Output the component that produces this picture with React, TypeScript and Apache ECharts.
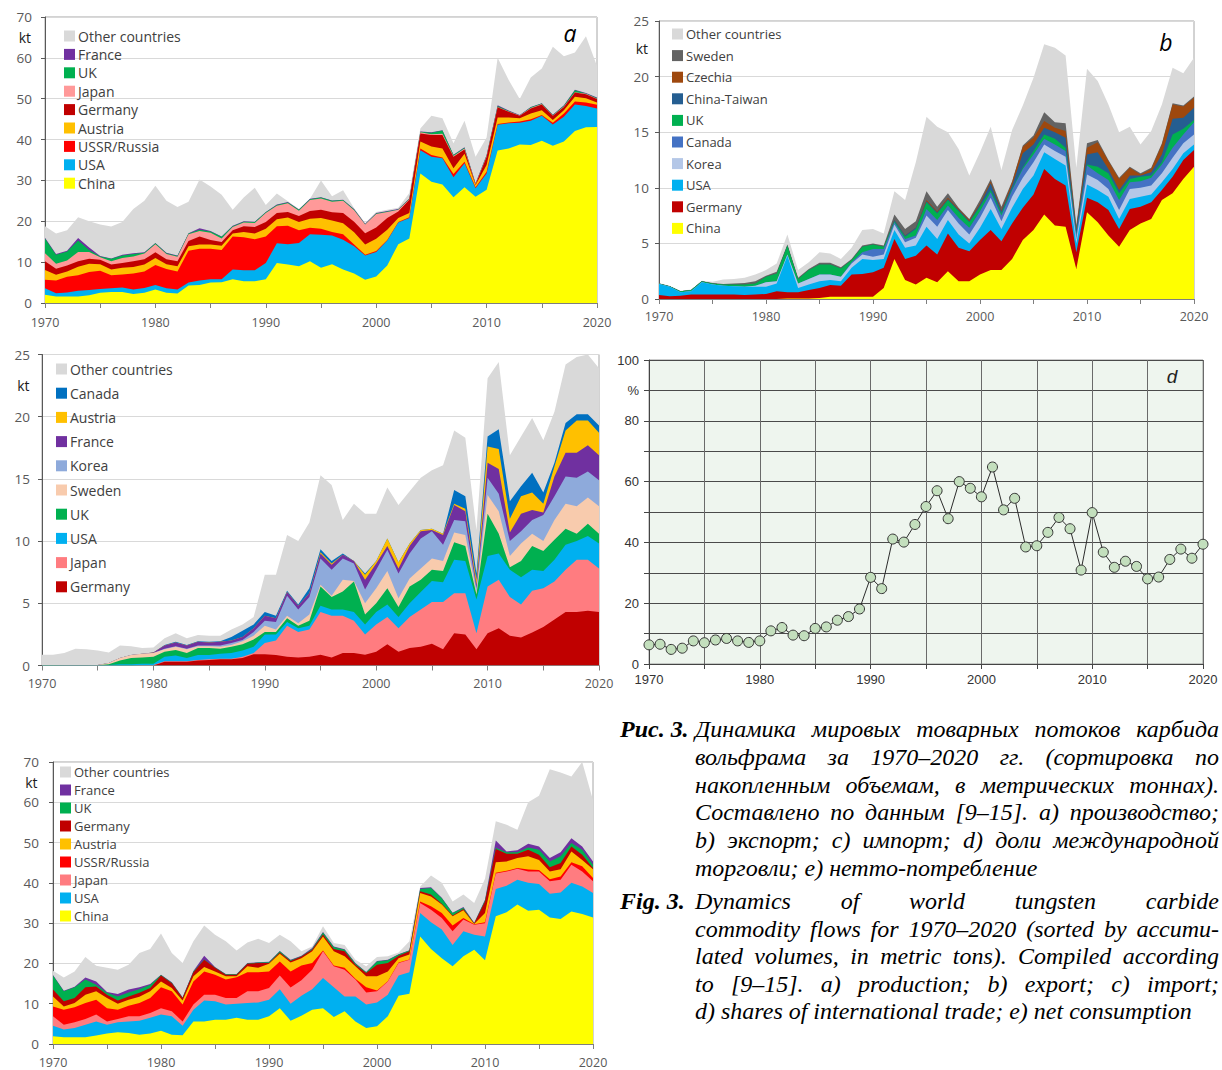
import React, { useEffect, useRef } from "react";
import * as echarts from "echarts";

// ---------- categories ----------
const years: string[] = [];
for (let y = 1970; y <= 2020; y++) years.push(String(y));

// ---------- panel a: production (upper edge of each band, kt) ----------
const aChina = [2.0,1.6,1.6,1.6,1.9,2.5,2.7,2.7,2.2,2.5, 3.3,2.5,2.3,4.3,4.4,5.0,5.1,5.8,5.3,5.3, 5.8,9.8,9.4,9.0,10.2,8.6,9.5,8.2,7.2,5.7, 6.5,9.2,14.4,15.8,31.7,29.7,29.0,25.9,28.3,26.0, 27.7,37.3,37.8,38.8,38.7,39.7,38.5,39.5,42.1,43.0,43.1];
const aUSA = [3.6,2.4,2.6,3.0,3.2,3.4,3.6,3.8,3.3,3.7, 4.4,3.6,3.3,5.0,5.5,5.8,5.8,8.2,8.0,8.0, 9.8,14.6,14.4,14.7,16.8,16.7,16.5,15.5,13.9,11.6, 12.5,15.3,19.7,20.8,37.4,35.8,35.4,30.8,34.2,28.1, 31.7,43.6,44.0,44.1,44.6,45.8,43.7,45.6,48.6,48.2,47.6];
const aRussia = [5.7,5.5,6.4,6.8,7.6,7.9,6.8,7.0,7.2,7.7, 9.3,8.3,7.7,12.8,13.3,13.3,13.0,16.3,16.1,15.6, 16.3,18.8,18.9,17.8,18.4,18.2,17.4,16.8,14.3,11.8, 12.7,15.4,19.8,21.0,37.8,36.2,35.6,31.6,34.6,28.3, 32.1,43.8,44.2,44.4,45.0,46.0,44.1,46.4,49.3,49.1,48.5];
const aAustria = [8.1,6.9,7.7,8.9,9.6,9.5,8.2,8.6,8.8,9.4, 11.0,9.5,9.0,13.9,14.3,14.3,14.0,17.0,17.4,17.0, 18.2,20.5,20.9,19.8,20.6,20.8,20.2,19.5,17.3,14.3, 15.7,17.9,20.8,22.0,39.5,38.3,37.8,33.0,36.5,28.9, 33.8,45.4,45.4,45.2,46.4,47.2,44.8,47.2,50.5,50.1,49.1];
const aGermany = [10.2,8.4,9.2,10.2,10.8,10.6,9.4,9.8,10.2,10.7, 12.4,10.7,10.2,15.2,16.3,15.4,14.9,17.8,18.8,18.6, 19.8,22.0,22.3,21.3,22.5,22.8,22.2,22.0,19.9,17.1, 18.5,20.8,22.4,25.3,41.5,41.1,41.1,35.8,37.6,29.0, 35.8,47.9,46.8,45.8,47.6,48.6,45.8,48.0,51.5,51.1,49.9];
const aJapan = [12.2,9.6,10.4,12.5,12.5,11.2,10.2,11.0,11.4,12.1, 14.4,12.0,11.3,16.8,17.6,17.2,15.8,18.6,19.7,19.6, 22.0,23.8,24.4,22.6,25.2,25.6,24.8,25.0,22.7,19.2, 21.8,22.3,22.8,25.4,41.8,41.3,41.4,36.0,37.8,29.1, 36.0,48.0,46.9,45.9,47.7,48.7,45.9,48.1,51.6,51.2,50.0];
const aUK = [15.8,11.8,12.6,15.3,13.0,11.4,10.8,11.6,12.0,12.3, 14.6,12.2,11.5,17.0,17.9,17.5,16.2,18.8,19.9,19.8, 22.2,24.0,24.6,22.8,25.4,25.8,25.0,25.2,22.9,19.3, 21.9,22.4,22.9,25.5,41.9,41.7,42.2,36.2,38.0,29.2, 36.1,48.2,47.0,45.9,47.9,48.8,46.0,48.3,52.1,51.3,50.2];
const aFrance = [16.0,12.0,12.8,15.9,13.6,11.5,10.9,11.8,12.2,12.4, 14.7,12.3,11.6,17.1,18.3,17.6,16.3,18.9,20.0,19.9, 22.3,24.1,24.7,22.9,25.5,25.9,25.1,25.3,23.0,19.4, 22.0,22.5,23.0,25.6,42.0,41.8,42.3,36.3,38.1,29.3, 36.2,48.4,47.1,46.0,48.0,48.9,46.1,48.4,52.2,51.4,50.3];
const aOther = [18.8,17.0,17.8,21.0,20.0,19.2,18.7,19.8,23.0,25.0, 28.7,25.0,23.5,24.8,30.2,28.5,26.5,22.8,25.8,28.2, 24.0,26.8,24.9,23.0,25.5,30.0,26.1,27.6,23.2,19.6, 22.3,22.8,23.3,26.9,42.7,45.8,45.2,39.1,44.6,35.8, 40.5,60.0,54.6,49.9,55.2,57.4,62.7,60.4,61.3,65.3,58.0];

// ---------- panel b: export ----------
const bChina = [0,0,0,0,0,0,0,0,0,0, 0,0,0.05,0.05,0.05,0.1,0.2,0.2,0.2,0.2, 0.2,1.0,3.6,1.7,1.3,1.9,1.5,2.5,1.6,1.6, 2.2,2.6,2.6,3.6,5.3,6.2,7.6,6.6,6.5,2.7, 7.8,6.9,5.7,4.7,6.2,6.8,7.2,8.9,9.5,10.8,11.9];
const bGermany = [0.35,0.25,0.3,0.4,0.4,0.4,0.4,0.4,0.35,0.4, 0.45,0.7,0.6,0.6,0.8,1.0,1.25,1.2,2.2,2.25, 2.4,2.8,5.4,3.6,3.9,4.8,4.0,5.9,4.6,4.3, 5.3,6.2,5.2,6.8,8.2,9.4,11.7,10.8,10.2,4.2, 9.1,8.7,8.0,6.3,8.1,8.3,8.7,9.8,11.0,12.5,13.4];
const bUSA = [1.35,1.1,0.6,0.7,1.5,1.3,1.2,1.15,1.1,1.1, 1.1,1.4,3.9,1.0,1.3,1.6,1.7,1.6,2.8,3.6, 3.5,3.6,6.2,4.6,4.8,6.5,5.4,7.1,5.8,5.0, 6.4,8.1,6.3,8.2,9.9,11.1,13.2,12.6,12.0,5.0, 10.3,9.8,9.2,7.2,9.0,9.2,9.4,10.5,11.7,13.1,13.9];
const bKorea = [1.35,1.1,0.6,0.7,1.5,1.3,1.2,1.15,1.1,1.2, 1.5,1.6,4.0,1.4,1.8,2.2,2.2,2.0,3.2,4.0, 3.8,4.0,6.7,5.1,5.5,7.5,6.5,8.0,6.8,5.8, 7.3,9.1,7.0,9.2,10.9,12.3,13.9,13.3,12.8,5.4, 11.2,10.7,9.9,8.0,9.9,10.0,10.2,11.3,12.7,14.0,14.8];
const bCanada = [1.35,1.1,0.6,0.7,1.5,1.3,1.2,1.15,1.1,1.2, 1.5,1.6,4.0,1.4,1.8,2.2,2.2,2.0,3.3,4.2, 4.5,4.5,6.9,5.4,5.7,8.1,7.1,8.4,7.3,6.4, 7.9,9.6,7.5,9.8,11.7,13.0,14.4,13.9,13.3,5.8, 12.0,11.3,10.7,8.9,10.5,10.6,10.9,12.1,13.6,14.8,15.9];
const bUK = [1.4,1.15,0.7,0.8,1.6,1.4,1.3,1.3,1.3,1.4, 2.0,2.3,4.8,1.8,2.6,3.1,3.1,2.75,3.5,4.7, 4.9,4.7,7.0,5.6,6.3,8.7,7.7,8.9,7.9,6.9, 8.3,9.8,7.7,9.9,11.8,13.3,14.8,14.4,13.6,5.9, 12.1,11.9,11.3,9.5,10.8,11.0,11.1,12.3,14.8,15.3,16.1];
const bTaiwan = [1.4,1.15,0.7,0.8,1.6,1.4,1.3,1.3,1.3,1.4, 2.0,2.3,4.8,1.8,2.6,3.1,3.1,2.75,3.5,4.7, 4.9,4.7,7.1,5.7,6.4,8.8,7.8,9.0,8.0,7.0, 8.5,10.4,7.9,10.2,13.1,13.9,15.4,15.0,14.5,6.2, 13.0,13.2,11.7,9.8,11.1,11.1,11.4,13.0,16.2,16.3,17.2];
const bCzechia = [1.4,1.15,0.7,0.8,1.6,1.4,1.3,1.3,1.3,1.4, 2.0,2.3,4.8,1.8,2.6,3.1,3.1,2.75,3.5,4.7, 4.9,4.7,7.1,5.7,6.4,8.9,7.9,9.1,8.1,7.1, 8.6,10.6,8.0,10.5,13.7,14.5,16.0,15.4,15.1,6.4, 13.6,14.1,12.4,10.8,11.8,11.2,11.7,13.9,17.5,17.3,18.1];
const bSweden = [1.4,1.15,0.7,0.8,1.6,1.45,1.35,1.4,1.45,1.6, 2.1,2.45,4.9,1.9,2.7,3.25,3.25,2.85,3.6,4.8, 5.0,4.8,7.6,6.3,7.0,9.7,8.3,9.5,8.2,7.2, 8.9,10.8,8.3,10.6,13.8,14.7,16.8,15.9,15.8,6.6, 14.0,14.3,12.5,10.9,11.9,11.3,11.8,14.0,17.6,17.4,18.2];
const bOther = [1.45,1.2,0.75,0.85,1.65,1.55,1.75,1.8,1.9,2.2, 2.6,3.2,5.8,2.6,3.3,4.2,4.1,3.6,4.6,6.2, 6.3,5.9,9.7,8.9,12.3,16.4,15.5,15.0,13.5,11.1, 13.2,15.5,11.6,15.2,17.4,19.9,22.9,22.6,21.9,11.8, 20.7,19.6,17.5,15.0,15.5,13.9,15.1,17.5,20.8,20.3,21.7];

// ---------- panel c: import ----------
const cGermany = [0,0,0,0,0,0,0,0,0,0, 0,0.3,0.3,0.3,0.4,0.45,0.5,0.5,0.6,0.9, 0.9,0.85,0.7,0.65,0.7,0.86,0.64,1.0,1.0,0.86, 1.1,1.7,1.1,1.4,1.5,1.75,1.3,2.6,2.5,1.3, 2.6,3.0,2.4,2.25,2.65,3.1,3.7,4.3,4.3,4.4,4.3];
const cJapan = [0,0,0,0,0,0,0,0,0,0.05, 0.05,0.35,0.35,0.35,0.45,0.5,0.55,0.55,0.7,1.0, 1.8,2.0,3.2,2.7,2.9,4.3,4.0,4.0,3.6,2.5, 3.3,3.9,3.0,3.9,4.5,5.1,5.1,5.8,5.8,2.6, 6.35,6.9,5.5,4.9,6.0,6.2,6.75,7.7,8.5,8.5,7.8];
const cUSA = [0.03,0.02,0.02,0.02,0.02,0.02,0.05,0.1,0.1,0.15, 0.15,0.7,0.8,0.6,0.85,0.85,0.95,1.0,1.2,1.5, 2.5,2.5,3.5,3.0,3.2,4.8,4.5,4.5,4.3,3.3, 4.3,4.9,3.9,5.0,5.9,6.8,6.7,8.5,8.4,5.3, 8.8,9.0,7.7,7.1,7.7,7.6,8.5,9.7,10.0,10.4,9.8];
const cUK = [0.05,0.04,0.03,0.03,0.03,0.03,0.1,0.4,0.6,0.65, 0.7,1.1,1.25,1.0,1.4,1.4,1.35,1.5,1.7,2.1, 2.7,2.7,3.8,3.2,3.6,6.35,5.5,5.95,6.75,4.1, 5.0,6.2,4.7,6.35,6.9,7.7,7.6,9.9,9.6,5.7, 12.2,10.6,7.9,8.4,9.6,9.2,10.1,11.0,10.6,11.4,10.6];
const cSweden = [0.05,0.04,0.03,0.03,0.03,0.05,0.2,0.6,0.85,0.95, 1.0,1.3,1.5,1.3,1.55,1.55,1.5,1.65,1.95,2.4, 3.2,2.9,4.0,3.4,4.1,6.5,5.6,6.9,6.8,5.0, 6.2,7.6,5.4,7.0,7.8,8.6,8.4,10.7,10.5,5.9, 13.7,12.4,8.8,9.8,10.6,10.0,11.7,13.0,12.8,13.5,12.8];
const cKorea = [0.05,0.04,0.03,0.03,0.03,0.05,0.2,0.6,0.85,0.95, 1.0,1.35,1.55,1.35,1.6,1.6,1.6,1.8,2.05,2.7, 3.6,3.5,5.6,4.5,5.5,8.6,7.7,8.6,8.2,6.1, 7.7,9.3,7.4,9.0,10.2,10.8,9.7,11.7,11.6,6.2, 15.1,13.8,10.0,10.8,11.7,12.1,13.6,15.2,15.1,15.6,14.9];
const cFrance = [0.05,0.04,0.03,0.03,0.03,0.05,0.2,0.6,0.85,0.95, 1.05,1.6,1.85,1.6,1.9,1.85,1.9,2.0,2.3,3.0, 4.0,3.8,5.9,4.8,5.8,9.0,8.1,8.9,8.4,6.9, 8.2,9.6,7.8,9.6,10.8,10.9,10.5,12.9,12.4,6.5, 16.3,15.8,10.7,12.2,12.5,12.3,15.2,17.1,17.1,17.7,16.9];
const cAustria = [0.05,0.04,0.03,0.03,0.03,0.05,0.2,0.6,0.85,0.95, 1.05,1.6,1.85,1.6,1.9,1.85,1.9,2.0,2.3,3.0, 4.0,3.8,5.9,4.8,5.8,9.1,8.2,8.9,8.4,7.3, 8.4,10.2,8.3,9.8,10.9,11.0,10.6,13.0,12.6,6.9, 17.6,17.4,11.8,13.6,13.9,13.0,16.0,18.9,19.7,19.7,18.7];
const cCanada = [0.05,0.04,0.03,0.03,0.03,0.05,0.2,0.6,0.85,0.95, 1.05,1.65,1.9,1.65,1.95,1.9,1.95,2.3,2.8,3.3, 4.3,4.0,6.0,4.9,6.2,9.35,8.4,9.0,8.4,7.4, 8.4,10.2,8.3,9.8,10.9,11.0,10.6,14.1,13.6,7.4, 18.4,19.0,13.2,14.4,15.5,13.9,16.3,19.5,20.2,20.2,19.3];
const cOther = [0.86,0.86,1.0,1.35,1.3,1.2,1.05,1.6,1.55,1.4, 1.45,2.2,2.6,2.2,2.45,2.4,2.4,2.9,3.3,3.9, 7.3,7.3,10.5,10.0,11.5,15.3,14.5,11.7,13.0,12.2, 12.2,14.3,12.9,14.0,15.1,15.7,16.1,18.9,18.3,10.9, 23.1,24.4,16.9,18.4,19.9,18.1,20.4,24.2,24.8,25.0,23.9];

// ---------- panel d: share of international trade, % ----------
const dShare = [6.3,6.5,4.8,5.2,7.6,7.0,7.9,8.4,7.6,7.1, 7.6,10.9,12.0,9.5,9.3,11.7,12.2,14.4,15.6,18.1, 28.5,24.8,41.1,40.1,45.9,51.8,57.0,47.8,60.0,57.8, 55.0,64.8,50.7,54.5,38.5,38.9,43.3,48.2,44.5,30.9, 49.8,36.8,31.8,33.8,32.1,28.0,28.6,34.4,37.8,34.8,39.4];

// ---------- panel e: net consumption ----------
const eChina = [1.9,1.7,1.7,1.65,2.1,2.6,2.9,2.7,2.3,2.6, 3.3,2.3,2.2,5.6,5.6,6.0,6.0,6.5,6.0,6.0, 6.9,8.9,5.8,7.0,8.5,8.9,6.7,8.1,5.6,4.0, 4.4,6.9,12.0,12.5,26.7,23.6,21.3,19.3,21.8,23.4, 20.8,31.7,32.7,34.6,33.1,33.3,31.4,31.0,32.9,32.3,31.4];
const eUSA = [4.5,3.6,4.0,4.8,5.6,4.8,5.4,5.6,5.8,6.5, 7.3,6.9,4.5,8.5,10.8,10.6,9.8,10.0,10.2,10.3, 11.0,13.6,10.0,12.0,13.6,16.4,14.1,11.8,11.8,9.8, 10.3,12.2,17.0,17.8,32.5,30.2,28.4,24.6,28.0,27.1, 26.7,38.5,39.3,40.8,40.0,39.7,37.3,37.6,40.0,39.1,37.5];
const eJapan = [6.9,4.8,5.4,6.2,7.3,5.6,6.2,6.9,6.9,7.7, 8.9,8.1,5.6,9.8,12.2,12.2,11.4,11.4,13.1,13.1, 13.9,17.0,14.0,15.8,18.4,23.0,19.3,18.4,16.0,12.8, 13.1,15.5,20.1,20.9,35.0,33.3,31.3,28.0,30.9,29.6, 30.0,42.3,42.8,43.5,42.8,42.8,40.4,40.8,44.5,42.8,40.4];
const eRussia = [9.3,8.5,9.1,10.2,11.0,8.9,8.5,9.5,10.2,11.4, 14.1,13.1,9.8,15.5,18.0,17.2,16.0,16.6,17.8,17.8, 18.0,20.5,18.0,19.5,20.1,23.2,19.5,18.9,16.2,14.1, 13.3,15.6,20.2,21.0,35.4,34.2,32.5,29.4,31.3,29.7, 30.2,42.5,43.0,43.7,43.3,43.2,40.9,41.6,45.1,44.1,41.2];
const eAustria = [11.8,9.3,10.2,12.2,13.1,11.4,10.0,11.0,11.7,13.1, 15.5,13.9,10.8,16.8,19.1,18.0,16.8,16.8,19.3,18.9, 19.9,22.4,20.2,21.3,23.0,26.7,23.0,21.8,19.3,16.8, 16.8,18.0,21.3,22.2,37.5,36.6,34.6,31.7,33.2,29.8, 32.5,45.1,45.3,46.2,46.6,45.7,42.8,43.4,47.8,45.7,43.4];
const eGermany = [13.5,10.6,11.4,14.1,14.3,12.2,10.8,11.8,12.7,13.9, 17.0,15.1,11.4,17.8,20.9,18.9,17.2,17.2,19.9,20.1, 20.1,22.7,20.6,21.7,23.4,27.2,23.6,23.0,19.7,17.6, 19.7,20.1,21.9,23.0,37.9,37.1,34.8,31.9,33.5,29.9, 35.4,48.4,47.2,47.2,48.2,47.0,43.9,44.9,49.0,47.0,43.7];
const eUK = [17.0,13.1,14.1,16.0,14.7,12.7,11.8,12.8,13.6,14.7, 17.1,15.2,11.5,18.0,21.0,19.0,17.3,17.3,20.0,20.2, 20.3,23.0,20.8,21.8,23.6,27.7,24.1,23.4,20.0,17.8, 20.5,20.8,22.2,23.2,38.5,38.7,36.2,32.5,33.8,30.0, 35.6,48.7,47.6,47.6,48.8,48.2,45.3,46.6,49.9,48.2,44.5];
const eFrance = [17.1,13.2,14.2,16.5,15.5,12.9,12.4,13.5,14.1,14.9, 17.2,15.3,11.6,18.1,21.9,19.1,17.4,17.4,20.1,20.3, 20.4,23.1,20.9,21.9,23.8,27.8,24.2,23.5,20.1,17.9, 20.6,20.9,22.3,23.3,38.7,38.9,36.3,32.6,34.0,30.1, 35.8,50.5,47.8,48.1,49.7,49.0,46.2,47.6,51.1,49.0,45.3];
const eOther = [18.2,16.5,18.0,21.6,19.4,18.9,18.4,19.7,22.6,23.6, 27.4,22.6,20.1,25.5,29.4,27.1,25.5,23.2,25.2,26.1, 25.1,27.1,25.5,23.0,24.2,29.2,25.1,24.6,20.9,19.3, 21.6,21.8,22.7,25.5,39.1,41.8,40.0,35.4,37.1,35.0, 41.0,55.3,54.4,53.2,60.0,61.6,68.2,67.4,66.4,70.0,60.5];

// ---------- caption ----------
const ruLabel = "Рис. 3.";
const ruLines = [
  "Динамика мировых товарных потоков карбида",
  "вольфрама за 1970–2020 гг. (сортировка по",
  "накопленным объемам, в метрических тоннах).",
  "Составлено по данным [9–15]. a) производство;",
  "b) экспорт; c) импорт; d) доли международной",
  "торговли; e) нетто-потребление",
];
const enLabel = "Fig. 3.";
const enLines = [
  "Dynamics of world tungsten carbide",
  "commodity flows for 1970–2020 (sorted by accumu-",
  "lated volumes, in metric tons). Compiled according",
  "to [9–15]. a) production; b) export; c) import;",
  "d) shares of international trade; e) net consumption",
];

// ---------- styling / layout ----------
const SANS = "'Open Sans', 'Noto Sans', sans-serif";
const ARIAL = "'Liberation Sans', Arial, sans-serif";
const SERIF = "'Liberation Serif', 'Times New Roman', serif";
const OTHER = "#d9d9d9";

type Layer = { name: string; color: string; data: number[] };
type Panel = {
  grid: { left: number; top: number; width: number; height: number };
  max: number; interval: number; ktAt: number; ktRight: number;
  yMargin: number; xMargin: number;
  legend: { left: number; top: number; gap: number; fontSize: number };
  letter: { text: string; x: number; y: number; size: number; bold?: boolean };
  layers: Layer[]; // bottom -> top
};

const panels: Panel[] = [
  {
    grid: { left: 45, top: 17, width: 552, height: 286 }, max: 70, interval: 10, ktAt: 65, ktRight: 31,
    yMargin: 13, xMargin: 13,
    legend: { left: 64, top: 29, gap: 4.4, fontSize: 14 },
    letter: { text: "a", x: 570, y: 33, size: 23 },
    layers: [
      { name: "China", color: "#ffff00", data: aChina },
      { name: "USA", color: "#00b0f0", data: aUSA },
      { name: "USSR/Russia", color: "#ff0000", data: aRussia },
      { name: "Austria", color: "#ffc000", data: aAustria },
      { name: "Germany", color: "#c00000", data: aGermany },
      { name: "Japan", color: "#ff9999", data: aJapan },
      { name: "UK", color: "#00b050", data: aUK },
      { name: "France", color: "#7030a0", data: aFrance },
      { name: "Other countries", color: OTHER, data: aOther },
    ],
  },
  {
    grid: { left: 659, top: 21, width: 535, height: 278 }, max: 25, interval: 5, ktAt: 22.5, ktRight: 648,
    yMargin: 10, xMargin: 11,
    legend: { left: 672, top: 27.5, gap: 8.6, fontSize: 13 },
    letter: { text: "b", x: 1166, y: 42, size: 23 },
    layers: [
      { name: "China", color: "#ffff00", data: bChina },
      { name: "Germany", color: "#c00000", data: bGermany },
      { name: "USA", color: "#00b0f0", data: bUSA },
      { name: "Korea", color: "#b4c7e7", data: bKorea },
      { name: "Canada", color: "#4472c4", data: bCanada },
      { name: "UK", color: "#00b050", data: bUK },
      { name: "China-Taiwan", color: "#255e91", data: bTaiwan },
      { name: "Czechia", color: "#9e480e", data: bCzechia },
      { name: "Sweden", color: "#636363", data: bSweden },
      { name: "Other countries", color: OTHER, data: bOther },
    ],
  },
  {
    grid: { left: 42, top: 354.5, width: 557, height: 311 }, max: 25, interval: 5, ktAt: 22.5, ktRight: 29.5,
    yMargin: 12, xMargin: 11,
    legend: { left: 56, top: 362, gap: 10.2, fontSize: 14 },
    letter: { text: "c", x: 581, y: 386, size: 21, bold: true },
    layers: [
      { name: "Germany", color: "#c00000", data: cGermany },
      { name: "Japan", color: "#ff7c80", data: cJapan },
      { name: "USA", color: "#00b0f0", data: cUSA },
      { name: "UK", color: "#00b050", data: cUK },
      { name: "Sweden", color: "#f8cbad", data: cSweden },
      { name: "Korea", color: "#8eaadb", data: cKorea },
      { name: "France", color: "#7030a0", data: cFrance },
      { name: "Austria", color: "#ffc000", data: cAustria },
      { name: "Canada", color: "#0070c0", data: cCanada },
      { name: "Other countries", color: OTHER, data: cOther },
    ],
  },
  {
    grid: { left: 53, top: 762, width: 540, height: 282 }, max: 70, interval: 10, ktAt: 65, ktRight: 37.5,
    yMargin: 14, xMargin: 12,
    legend: { left: 60, top: 765.5, gap: 5, fontSize: 13 },
    letter: { text: "e", x: 574, y: 788, size: 23 },
    layers: [
      { name: "China", color: "#ffff00", data: eChina },
      { name: "USA", color: "#00b0f0", data: eUSA },
      { name: "Japan", color: "#ff7c80", data: eJapan },
      { name: "USSR/Russia", color: "#ff0000", data: eRussia },
      { name: "Austria", color: "#ffc000", data: eAustria },
      { name: "Germany", color: "#c00000", data: eGermany },
      { name: "UK", color: "#00b050", data: eUK },
      { name: "France", color: "#7030a0", data: eFrance },
      { name: "Other countries", color: OTHER, data: eOther },
    ],
  },
];

const gridD = { left: 649, top: 360, width: 554, height: 304 };

function captionElements(): any[] {
  const cv = document.createElement("canvas");
  const ctx = cv.getContext("2d")!;
  const measure = (t: string, font: string) => { ctx.font = font; return ctx.measureText(t).width; };
  const lastW = 497;
  const w100 = measure(enLines[4], `italic 100px ${SERIF}`);
  let fs = (100 * lastW) / w100;
  fs = Math.max(18, Math.min(24, fs));
  const font = `italic ${fs}px ${SERIF}`;
  const bold = `italic bold ${fs}px ${SERIF}`;
  const x0 = 695, x1 = 1219, labelX = 620;
  const out: any[] = [];
  const txt = (t: string, x: number, y: number, f: string) => ({
    type: "text", x, y, silent: true,
    style: { text: t, font: f, fill: "#000", textVerticalAlign: "middle", verticalAlign: "middle" },
  });
  const para = (label: string, lines: string[], y0: number, pitch: number) => {
    out.push(txt(label, labelX, y0, bold));
    lines.forEach((line, i) => {
      const y = y0 + i * pitch;
      if (i === lines.length - 1) { out.push(txt(line, x0, y, font)); return; }
      const words = line.split(" ");
      const ws = words.map((w) => measure(w, font));
      const sum = ws.reduce((a, b) => a + b, 0);
      const gap = words.length > 1 ? (x1 - x0 - sum) / (words.length - 1) : 0;
      let x = x0;
      words.forEach((w, k) => { out.push(txt(w, x, y, font)); x += ws[k] + gap; });
    });
  };
  para(ruLabel, ruLines, 729, 27.8);
  para(enLabel, enLines, 901, 27.6);
  return out;
}

function buildOption(): any {
  const grids: any[] = [];
  const xAxes: any[] = [];
  const yAxes: any[] = [];
  const series: any[] = [];
  const legends: any[] = [];
  const graphics: any[] = [];

  panels.forEach((p, gi) => {
    grids.push({ ...p.grid, show: true, borderColor: "#a6a6a6", borderWidth: 1, backgroundColor: "transparent" });
    xAxes.push({
      type: "category", gridIndex: gi, data: years, boundaryGap: false,
      axisLine: { show: true, lineStyle: { color: "#7f7f7f" } },
      axisTick: { show: true, interval: 4, length: 5, lineStyle: { color: "#7f7f7f" } },
      axisLabel: { interval: 9, color: "#595959", fontSize: 12.5, fontFamily: SANS, margin: p.xMargin },
      splitLine: { show: false },
    });
    yAxes.push({
      type: "value", gridIndex: gi, min: 0, max: p.max, interval: p.interval,
      axisLine: { show: true, lineStyle: { color: "#595959" } },
      axisTick: { show: true, length: 4, lineStyle: { color: "#595959" } },
      axisLabel: { color: "#595959", fontSize: 13.5, fontFamily: SANS, margin: p.yMargin },
      splitLine: { show: true, lineStyle: { color: "#d9d9d9", width: 1 } },
    });
    // draw from top band (back) to bottom band (front)
    for (let k = p.layers.length - 1; k >= 0; k--) {
      const L = p.layers[k];
      series.push({
        type: "line", name: L.name, xAxisIndex: gi, yAxisIndex: gi, data: L.data,
        symbol: "none", showSymbol: false, silent: true,
        lineStyle: { width: 0, color: L.color }, itemStyle: { color: L.color },
        areaStyle: { color: L.color, opacity: 1 },
        emphasis: { disabled: true }, z: 2,
      });
    }
    legends.push({
      orient: "vertical", left: p.legend.left, top: p.legend.top, padding: 0,
      itemGap: p.legend.gap, itemWidth: 11, itemHeight: 11, icon: "rect", selectedMode: false,
      textStyle: { fontSize: p.legend.fontSize, color: "#404040", fontFamily: SANS, padding: [0, 0, 0, -2] },
      data: p.layers.slice().reverse().map((L) => ({ name: L.name, itemStyle: { color: L.color } })),
    });
    const g = p.grid;
    graphics.push({
      type: "text", x: p.ktRight, y: g.top + g.height * (1 - p.ktAt / p.max), silent: true,
      style: { text: "kt", fontSize: 14, fontFamily: SANS, fill: "#1a1a1a",
        textAlign: "right", align: "right", textVerticalAlign: "middle", verticalAlign: "middle" },
    });
    graphics.push({
      type: "text", x: p.letter.x, y: p.letter.y, silent: true,
      style: { text: p.letter.text, fontSize: p.letter.size, fontFamily: SANS, fontStyle: "italic",
        fontWeight: p.letter.bold ? "bold" : "normal", fill: "#000",
        textAlign: "center", align: "center", textVerticalAlign: "middle", verticalAlign: "middle" },
    });
  });

  // panel d
  const di = grids.length;
  grids.push({ ...gridD, show: true, borderColor: "#9a9a9a", borderWidth: 1, backgroundColor: "#eef5ee" });
  xAxes.push({
    type: "value", gridIndex: di, min: 1970, max: 2020, interval: 5,
    axisLine: { show: true, lineStyle: { color: "#444" } },
    axisTick: { show: true, length: 5, lineStyle: { color: "#444" } },
    axisLabel: { color: "#333", fontSize: 13, fontFamily: ARIAL, margin: 9,
      formatter: (v: number) => (v % 10 === 0 ? String(v) : "") },
    splitLine: { show: true, lineStyle: { color: "#6a6a6a", width: 1 } },
  });
  yAxes.push({
    type: "value", gridIndex: di, min: 0, max: 100, interval: 10,
    axisLine: { show: true, lineStyle: { color: "#444" } },
    axisTick: { show: true, length: 5, lineStyle: { color: "#444" } },
    axisLabel: { color: "#333", fontSize: 13, fontFamily: ARIAL, margin: 10,
      formatter: (v: number) => (v % 20 === 0 ? String(v) : v === 90 ? "%" : "") },
    splitLine: { show: true, lineStyle: { color: "#4a4a4a", width: 1 } },
  });
  series.push({
    type: "line", name: "share", xAxisIndex: di, yAxisIndex: di,
    data: years.map((y, i) => [Number(y), dShare[i]]),
    symbol: "circle", symbolSize: 10, silent: true,
    lineStyle: { color: "#2b2b2b", width: 1 },
    itemStyle: { color: "#c3dfbd", borderColor: "#333", borderWidth: 1 },
    emphasis: { disabled: true }, z: 3,
  });
  graphics.push({
    type: "text", x: 1172, y: 376, silent: true,
    style: { text: "d", fontSize: 19, fontFamily: ARIAL, fontStyle: "italic", fill: "#222",
      textAlign: "center", align: "center", textVerticalAlign: "middle", verticalAlign: "middle" },
  });

  graphics.push(...captionElements());

  return {
    animation: false,
    backgroundColor: "#ffffff",
    grid: grids, xAxis: xAxes, yAxis: yAxes, series, legend: legends,
    tooltip: { show: false },
    graphic: { elements: graphics },
  };
}

export default function App() {
  const ref = useRef<HTMLDivElement>(null);
  useEffect(() => {
    if (!ref.current) return;
    const chart = echarts.init(ref.current, undefined, { renderer: "svg", width: 1222, height: 1070 });
    chart.setOption(buildOption());
    return () => chart.dispose();
  }, []);
  return (
    <div ref={ref} style={{ position: "absolute", left: 0, top: 0, width: 1222, height: 1070, background: "#fff" }} />
  );
}
